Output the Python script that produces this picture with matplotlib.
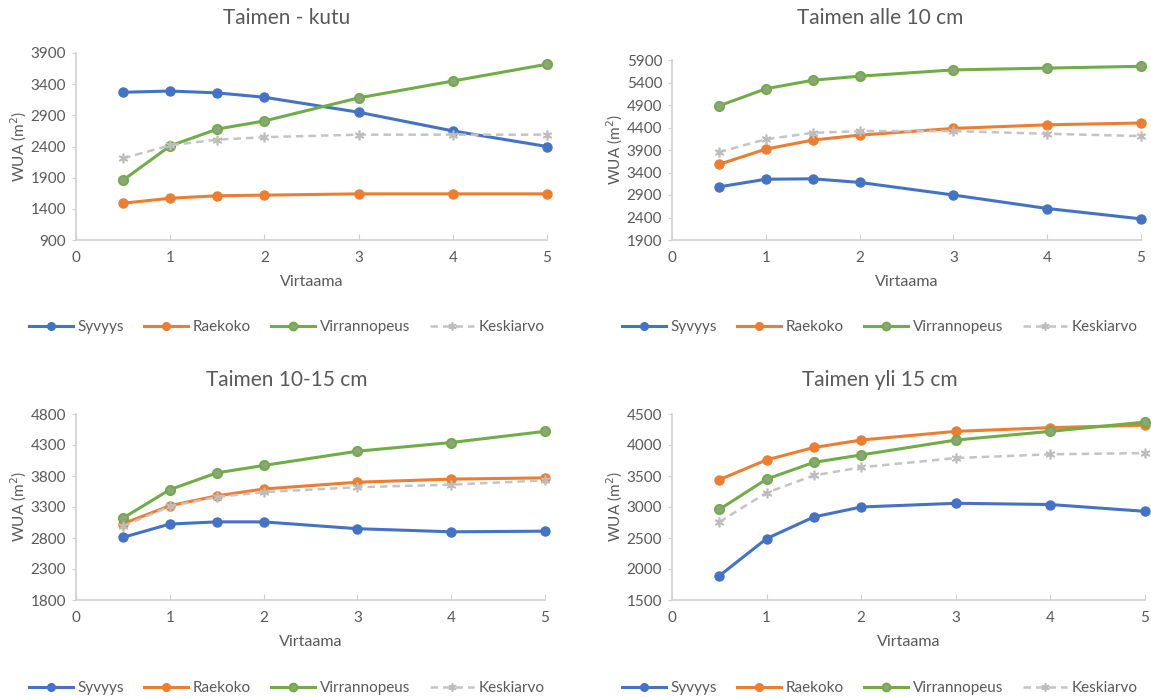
import matplotlib
matplotlib.use("Agg")
import matplotlib.pyplot as plt

plt.rcParams["font.family"] = ["Lato", "DejaVu Sans"]

# --- WUA (m2) vs. virtaama, four life stages ---
VIRTAAMA = [0.5, 1, 1.5, 2, 3, 4, 5]
SERIES = ["Syvyys", "Raekoko", "Virrannopeus", "Keskiarvo"]

KUTU_SYVYYS = [3270, 3290, 3260, 3190, 2950, 2650, 2400]
KUTU_RAEKOKO = [1490, 1570, 1610, 1620, 1640, 1640, 1640]
KUTU_VIRRANNOPEUS = [1860, 2410, 2680, 2810, 3180, 3450, 3720]
KUTU_KESKIARVO = [2210, 2420, 2510, 2550, 2590, 2590, 2590]

ALLE10_SYVYYS = [3080, 3250, 3260, 3180, 2900, 2600, 2370]
ALLE10_RAEKOKO = [3580, 3920, 4120, 4230, 4380, 4460, 4500]
ALLE10_VIRRANNOPEUS = [4880, 5260, 5450, 5540, 5680, 5720, 5760]
ALLE10_KESKIARVO = [3850, 4140, 4280, 4320, 4320, 4260, 4210]

V10_15_SYVYYS = [2810, 3025, 3060, 3060, 2950, 2900, 2910]
V10_15_RAEKOKO = [3030, 3320, 3480, 3590, 3700, 3750, 3770]
V10_15_VIRRANNOPEUS = [3120, 3580, 3850, 3970, 4200, 4340, 4520]
V10_15_KESKIARVO = [2990, 3310, 3460, 3540, 3620, 3660, 3730]

YLI15_SYVYYS = [1890, 2490, 2840, 3000, 3060, 3040, 2930]
YLI15_RAEKOKO = [3440, 3760, 3960, 4080, 4220, 4280, 4320]
YLI15_VIRRANNOPEUS = [2960, 3450, 3720, 3840, 4080, 4220, 4370]
YLI15_KESKIARVO = [2760, 3230, 3510, 3640, 3790, 3850, 3870]

TITLES = ["Taimen - kutu", "Taimen alle 10 cm", "Taimen 10-15 cm", "Taimen yli 15 cm"]
Y_RANGES = [(900, 3900), (1900, 5900), (1800, 4800), (1500, 4500)]
X_TICKS = [0, 1, 2, 3, 4, 5]

PANELS = [
    (KUTU_SYVYYS, KUTU_RAEKOKO, KUTU_VIRRANNOPEUS, KUTU_KESKIARVO),
    (ALLE10_SYVYYS, ALLE10_RAEKOKO, ALLE10_VIRRANNOPEUS, ALLE10_KESKIARVO),
    (V10_15_SYVYYS, V10_15_RAEKOKO, V10_15_VIRRANNOPEUS, V10_15_KESKIARVO),
    (YLI15_SYVYYS, YLI15_RAEKOKO, YLI15_VIRRANNOPEUS, YLI15_KESKIARVO),
]

TEXT = "#595959"
AXIS = "#D0D0D0"

STYLES = {
    "Syvyys": dict(color="#4472C4", lw=2.2, marker="o", ms=6.5,
                   mfc="#4472C4", mec="#4472C4"),
    "Raekoko": dict(color="#ED7D31", lw=2.2, marker="o", ms=6.5,
                    mfc="#ED7D31", mec="#ED7D31"),
    "Virrannopeus": dict(color="#70AD47", lw=2.2, marker="o", ms=6.5,
                         mfc="#8FA37F", mec="#70AD47", mew=1.5),
    "Keskiarvo": dict(color="#C4C4C4", lw=1.8, ls=(0, (3, 2)), marker=(6, 2, 0),
                      ms=7, mfc="#BDBDBD", mec="#BDBDBD", mew=1.2),
}

W, H = 1151, 697
# axes boxes in pixels: left, top, right, bottom
BOXES = [
    (76, 53, 547, 240),
    (672, 60, 1141, 240),
    (76, 414, 545, 600),
    (672, 414, 1145, 600),
]
CENTER_X = [287, 880, 287, 880]   # middle of each chart block (title + legend)
TITLE_Y = [18, 18, 380, 380]
LEGEND_Y = [327, 327, 688, 688]
YLABEL_X = [19, 615, 19, 615]

fig = plt.figure(figsize=(W / 100, H / 100), dpi=100)

for i, (title, (y0, y1), values) in enumerate(zip(TITLES, Y_RANGES, PANELS)):
    l, t, r, b = BOXES[i]
    ax = fig.add_axes([l / W, 1 - b / H, (r - l) / W, (b - t) / H])

    for name, ys in zip(SERIES, values):
        ax.plot(VIRTAAMA, ys, label=name, clip_on=False, **STYLES[name])

    ax.set_xlim(0, 5)
    ax.set_ylim(y0, y1)
    ax.set_xticks(X_TICKS)
    ax.set_yticks(range(y0, y1 + 1, 500))

    for side in ("top", "right"):
        ax.spines[side].set_visible(False)
    for side in ("left", "bottom"):
        ax.spines[side].set_color(AXIS)
        ax.spines[side].set_linewidth(1.2)

    ax.tick_params(axis="x", direction="in", length=4, color=AXIS,
                   labelsize=11, labelcolor=TEXT, pad=8)
    ax.tick_params(axis="y", direction="out", length=3, color=AXIS,
                   labelsize=11, labelcolor=TEXT, pad=4)

    ax.set_xlabel("Virtaama", fontsize=11.5, color=TEXT, labelpad=7)
    fig.text(YLABEL_X[i] / W, 1 - (t + b) / 2 / H, "WUA (m$^2$)", rotation=90,
             ha="center", va="center", fontsize=11, color=TEXT)
    fig.text(CENTER_X[i] / W, 1 - TITLE_Y[i] / H, title,
             ha="center", va="center", fontsize=15, color=TEXT)

    fig.legend(*ax.get_legend_handles_labels(), loc="center", ncol=4,
               bbox_to_anchor=(CENTER_X[i] / W, 1 - LEGEND_Y[i] / H),
               frameon=False, fontsize=11, labelcolor=TEXT,
               handlelength=2.9, handletextpad=0.3, columnspacing=1.3,
               markerscale=0.85)

fig.savefig("out.png", dpi=100, facecolor="white")
